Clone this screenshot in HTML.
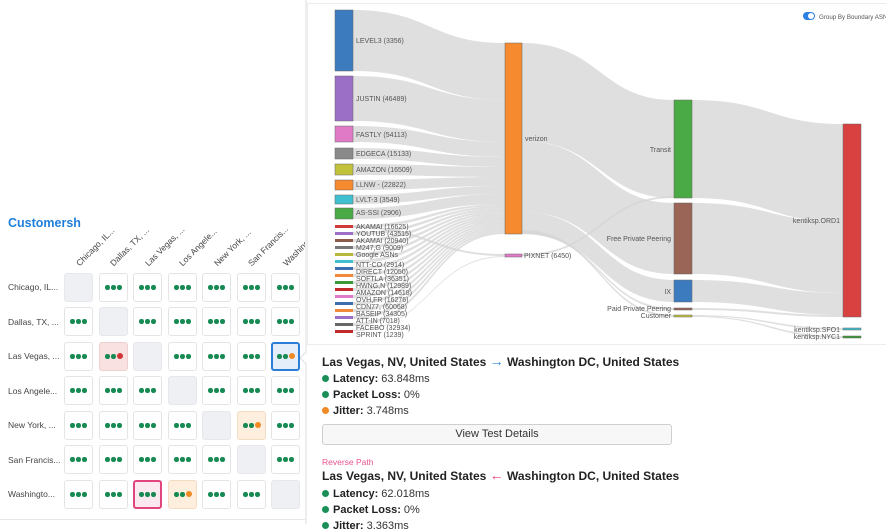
<!DOCTYPE html>
<html><head><meta charset="utf-8">
<style>
*{margin:0;padding:0;box-sizing:border-box}
body{width:886px;height:524px;overflow:hidden;background:#fff;font-family:"Liberation Sans",sans-serif;position:relative}
.t{position:absolute;white-space:nowrap}
.rl{position:absolute;left:8px;font-size:8.5px;color:#444}
.cl{position:absolute;font-size:8.5px;color:#444;transform:rotate(-45deg);transform-origin:left bottom;white-space:nowrap}
.c{position:absolute;width:29px;height:29px;border:1px solid #e4e4e4;border-radius:3px;background:#fff}
.c.d{background:#eef0f3;border-color:#e6e8eb}
.dots{position:absolute;left:5px;top:11px;height:5px;width:17px}
.dots i{position:absolute;top:0;width:4.5px;height:4.5px;border-radius:50%;background:#168a52}
.it{position:absolute;left:322px;font-size:11px;color:#333}
.it b{font-weight:bold;color:#222}
.it s{display:inline-block;width:7px;height:7px;border-radius:50%;background:#1a8f55;margin-right:4px;vertical-align:0px;text-decoration:none}
.h{position:absolute;left:322px;font-size:12px;font-weight:bold;color:#222;white-space:nowrap}
.h span{font-size:14px}
</style></head><body>

<div class="t" style="left:8px;top:216px;font-size:12.5px;font-weight:bold;color:#1f7fdc">Customersh</div>

<div class="cl" style="left:81px;top:258px">Chicago, IL...</div>
<div class="cl" style="left:115px;top:258px">Dallas, TX, ...</div>
<div class="cl" style="left:150px;top:258px">Las Vegas, ...</div>
<div class="cl" style="left:184px;top:258px">Los Angele...</div>
<div class="cl" style="left:219px;top:258px">New York, ...</div>
<div class="cl" style="left:253px;top:258px">San Francis...</div>
<div class="cl" style="left:288px;top:258px">Washingto...</div>

<div class="rl" style="top:282px">Chicago, IL...</div>
<div class="rl" style="top:317px">Dallas, TX, ...</div>
<div class="rl" style="top:351px">Las Vegas, ...</div>
<div class="rl" style="top:386px">Los Angele...</div>
<div class="rl" style="top:420px">New York, ...</div>
<div class="rl" style="top:455px">San Francis...</div>
<div class="rl" style="top:489px">Washingto...</div>

<div style="position:absolute;left:0;top:519px;width:305px;height:1px;background:#e6e6e6"></div>

<div style="position:absolute;left:305px;top:0;width:2px;height:524px;background:#eee"></div>
<div style="position:absolute;left:307px;top:3px;width:579px;height:342px;border:1px solid #ececec;border-right:none;background:#fff"></div>

<svg style="position:absolute;left:0;top:0" width="886" height="524">
<g fill="#d4d4d4" fill-opacity="0.75">
<path d="M353 10 C430 10,430 43,505 43 L505 100 C430 100,430 71,353 71Z"/>
<path d="M353 76 C430 76,430 100,505 100 L505 142 C430 142,430 121,353 121Z"/>
<path d="M353 126 C430 126,430 142,505 142 L505 157 C430 157,430 142,353 142Z"/>
<path d="M353 148 C430 148,430 157,505 157 L505 167 C430 167,430 159,353 159Z"/>
<path d="M353 164 C430 164,430 167,505 167 L505 177 C430 177,430 175,353 175Z"/>
<path d="M353 180 C430 180,430 177,505 177 L505 186 C430 186,430 190,353 190Z"/>
<path d="M353 195 C430 195,430 186,505 186 L505 194 C430 194,430 204,353 204Z"/>
<path d="M353 208 C430 208,430 194,505 194 L505 204 C430 204,430 219,353 219Z"/>
<path d="M353 225 C430 225,430 204,505 204 L505 206 C430 206,430 228,353 228Z"/>
<path d="M353 232 C430 232,430 206,505 206 L505 208 C430 208,430 235,353 235Z"/>
<path d="M353 239 C430 239,430 208,505 208 L505 210 C430 210,430 242,353 242Z"/>
<path d="M353 246 C430 246,430 210,505 210 L505 212 C430 212,430 249,353 249Z"/>
<path d="M353 253 C430 253,430 212,505 212 L505 214 C430 214,430 256,353 256Z"/>
<path d="M353 260 C430 260,430 214,505 214 L505 216 C430 216,430 263,353 263Z"/>
<path d="M353 267 C430 267,430 216,505 216 L505 218 C430 218,430 270,353 270Z"/>
<path d="M353 274 C430 274,430 218,505 218 L505 220 C430 220,430 277,353 277Z"/>
<path d="M353 281 C430 281,430 220,505 220 L505 222 C430 222,430 284,353 284Z"/>
<path d="M353 288 C430 288,430 222,505 222 L505 224 C430 224,430 291,353 291Z"/>
<path d="M353 295 C430 295,430 224,505 224 L505 226 C430 226,430 298,353 298Z"/>
<path d="M353 302 C430 302,430 226,505 226 L505 228 C430 228,430 305,353 305Z"/>
<path d="M353 309 C430 309,430 228,505 228 L505 230 C430 230,430 312,353 312Z"/>
<path d="M353 316 C430 316,430 230,505 230 L505 232 C430 232,430 319,353 319Z"/>
<path d="M353 323 C430 323,430 232,505 232 L505 234 C430 234,430 326,353 326Z"/>
<path d="M353 226 C430 226,430 254,505 254 L505 256 C430 256,430 228,353 228Z"/>
<path d="M353 330 C430 330,430 256,505 256 L505 257 C430 257,430 331,353 331Z"/>
<path d="M522 43 C600 43,600 100,674 100 L674 198 C600 198,600 141,522 141Z"/>
<path d="M522 141 C600 141,600 203,674 203 L674 274 C600 274,600 212,522 212Z"/>
<path d="M522 212 C600 212,600 280,674 280 L674 302 C600 302,600 234,522 234Z"/>
<path d="M522 254 C600 254,600 196,674 196 L674 198 C600 198,600 256,522 256Z"/>
<path d="M522 232 C600 232,600 308,674 308 L674 310 C600 310,600 234,522 234Z"/>
<path d="M522 230 C600 230,600 315,674 315 L674 317 C600 317,600 232,522 232Z"/>
<path d="M692 100 C770 100,770 124,843 124 L843 222 C770 222,770 198,692 198Z"/>
<path d="M692 203 C770 203,770 222,843 222 L843 293 C770 293,770 274,692 274Z"/>
<path d="M692 280 C770 280,770 293,843 293 L843 315 C770 315,770 302,692 302Z"/>
<path d="M692 308 C770 308,770 315,843 315 L843 317 C770 317,770 310,692 310Z"/>
<path d="M692 315 C770 315,770 328,843 328 L843 330 C770 330,770 316,692 316Z"/>
<path d="M692 316 C770 316,770 336,843 336 L843 338 C770 338,770 317,692 317Z"/>
</g>
<g stroke="#666" stroke-width="0.5">
<rect x="335" y="10" width="18" height="61" fill="#3d7bbf"/>
<rect x="335" y="76" width="18" height="45" fill="#9b6fc6"/>
<rect x="335" y="126" width="18" height="16" fill="#e07ac7"/>
<rect x="335" y="148" width="18" height="11" fill="#8a8a8a"/>
<rect x="335" y="164" width="18" height="11" fill="#c1c23a"/>
<rect x="335" y="180" width="18" height="10" fill="#f68a2f"/>
<rect x="335" y="195" width="18" height="9" fill="#3fbfd0"/>
<rect x="335" y="208" width="18" height="11" fill="#4aaa45"/>
<rect x="505" y="43" width="17" height="191" fill="#f68a2f"/>
<rect x="505" y="254" width="17" height="3" fill="#e07ac7"/>
<rect x="674" y="100" width="18" height="98" fill="#4aaa45"/>
<rect x="674" y="203" width="18" height="71" fill="#9a6456"/>
<rect x="674" y="280" width="18" height="22" fill="#3d7bbf"/>
<rect x="674" y="308" width="18" height="2" fill="#9a6456"/>
<rect x="674" y="315" width="18" height="2" fill="#c1c23a"/>
<rect x="843" y="124" width="18" height="193" fill="#d94040"/>
<rect x="843" y="328" width="18" height="2" fill="#3fbfd0"/>
<rect x="843" y="336" width="18" height="2" fill="#3a9a3a"/>
</g>
<g stroke="none">
<rect x="335" y="225" width="18" height="3" fill="#d03a3a"/>
<rect x="335" y="232" width="18" height="3" fill="#9b6fc6"/>
<rect x="335" y="239" width="18" height="3" fill="#8a5a4a"/>
<rect x="335" y="246" width="18" height="3" fill="#777"/>
<rect x="335" y="253" width="18" height="3" fill="#b8b83a"/>
<rect x="335" y="260" width="18" height="3" fill="#3fbfd0"/>
<rect x="335" y="267" width="18" height="3" fill="#3d6fb0"/>
<rect x="335" y="274" width="18" height="3" fill="#f08a3a"/>
<rect x="335" y="281" width="18" height="3" fill="#3a9a3a"/>
<rect x="335" y="288" width="18" height="3" fill="#c02a2a"/>
<rect x="335" y="295" width="18" height="3" fill="#e07ac7"/>
<rect x="335" y="302" width="18" height="3" fill="#3d6fb0"/>
<rect x="335" y="309" width="18" height="3" fill="#f08a3a"/>
<rect x="335" y="316" width="18" height="3" fill="#9b6fc6"/>
<rect x="335" y="323" width="18" height="3" fill="#666"/>
<rect x="335" y="330" width="18" height="3" fill="#c02a2a"/>
</g>
<g font-family="Liberation Sans,sans-serif" font-size="7" fill="#555">
<text x="356" y="43">LEVEL3 (3356)</text>
<text x="356" y="101">JUSTIN (46489)</text>
<text x="356" y="137">FASTLY (54113)</text>
<text x="356" y="156">EDGECA (15133)</text>
<text x="356" y="172">AMAZON (16509)</text>
<text x="356" y="187">LLNW - (22822)</text>
<text x="356" y="202">LVLT-3 (3549)</text>
<text x="356" y="215">AS-SSI (2906)</text>
<text x="356" y="229">AKAMAI (16625)</text>
<text x="356" y="236">YOUTUB (43515)</text>
<text x="356" y="243">AKAMAI (20940)</text>
<text x="356" y="250">M247,G (9009)</text>
<text x="356" y="257">Google ASNs</text>
<text x="356" y="267">NTT-CO (2914)</text>
<text x="356" y="274">DIRECT (12050)</text>
<text x="356" y="281">SOFTLA (36351)</text>
<text x="356" y="288">HWNG,N (12989)</text>
<text x="356" y="295">AMAZON (14618)</text>
<text x="356" y="302">OVH,FR (16276)</text>
<text x="356" y="309">CDN77, (60068)</text>
<text x="356" y="316">BASEIP (34305)</text>
<text x="356" y="323">ATT-IN (7018)</text>
<text x="356" y="330">FACEBO (32934)</text>
<text x="356" y="337">SPRINT (1239)</text>
<text x="525" y="141">verizon</text>
<text x="524" y="258">PIXNET (6450)</text>
<text x="671" y="152" text-anchor="end">Transit</text>
<text x="671" y="241" text-anchor="end">Free Private Peering</text>
<text x="671" y="294" text-anchor="end">IX</text>
<text x="671" y="311" text-anchor="end">Paid Private Peering</text>
<text x="671" y="318" text-anchor="end">Customer</text>
<text x="840" y="223" text-anchor="end">kentiksp.ORD1</text>
<text x="840" y="332" text-anchor="end">kentiksp.SFO1</text>
<text x="840" y="339" text-anchor="end">kentiksp.NYC1</text>
<text x="819" y="19" font-size="6.2">Group By Boundary ASN</text>
</g>
<rect x="803" y="12" width="12" height="8" rx="4" fill="#2d7fe0"/>
<circle cx="811" cy="16" r="3" fill="#fff"/>
</svg>

<!-- popup -->
<div style="position:absolute;left:307px;top:346px;width:579px;height:178px;background:#fff"></div>
<div style="position:absolute;left:301px;top:354px;width:8px;height:8px;background:#fff;border-left:1px solid #ddd;border-top:1px solid #ddd;transform:rotate(-45deg)"></div>
<div class="h" style="top:353px">Las Vegas, NV, United States <span style="color:#2d86e0;font-weight:normal">→</span> Washington DC, United States</div>
<div class="it" style="top:373px"><s></s><b>Latency:</b> 63.848ms</div>
<div class="it" style="top:389px"><s></s><b>Packet Loss:</b> 0%</div>
<div class="it" style="top:405px"><s style="background:#f08a24"></s><b>Jitter:</b> 3.748ms</div>
<div style="position:absolute;left:322px;top:424px;width:350px;height:21px;border:1px solid #cfcfcf;border-radius:3px;background:#f7f7f7;font-size:11px;color:#333;text-align:center;line-height:19px">View Test Details</div>
<div class="t" style="left:322px;top:457px;font-size:8.5px;color:#e8528f">Reverse Path</div>
<div class="h" style="top:467px">Las Vegas, NV, United States <span style="color:#e8407a;font-weight:normal">←</span> Washington DC, United States</div>
<div class="it" style="top:488px"><s></s><b>Latency:</b> 62.018ms</div>
<div class="it" style="top:504px"><s></s><b>Packet Loss:</b> 0%</div>
<div class="it" style="top:520px"><s></s><b>Jitter:</b> 3.363ms</div>

<!-- cells -->
<div class="c d" style="left:64px;top:273px"></div>
<div class="c" style="left:99px;top:273px"><div class="dots"><i style="left:0"></i><i style="left:6px"></i><i style="left:12px"></i></div></div>
<div class="c" style="left:133px;top:273px"><div class="dots"><i style="left:0"></i><i style="left:6px"></i><i style="left:12px"></i></div></div>
<div class="c" style="left:168px;top:273px"><div class="dots"><i style="left:0"></i><i style="left:6px"></i><i style="left:12px"></i></div></div>
<div class="c" style="left:202px;top:273px"><div class="dots"><i style="left:0"></i><i style="left:6px"></i><i style="left:12px"></i></div></div>
<div class="c" style="left:237px;top:273px"><div class="dots"><i style="left:0"></i><i style="left:6px"></i><i style="left:12px"></i></div></div>
<div class="c" style="left:271px;top:273px"><div class="dots"><i style="left:0"></i><i style="left:6px"></i><i style="left:12px"></i></div></div>

<div class="c" style="left:64px;top:307px"><div class="dots"><i style="left:0"></i><i style="left:6px"></i><i style="left:12px"></i></div></div>
<div class="c d" style="left:99px;top:307px"></div>
<div class="c" style="left:133px;top:307px"><div class="dots"><i style="left:0"></i><i style="left:6px"></i><i style="left:12px"></i></div></div>
<div class="c" style="left:168px;top:307px"><div class="dots"><i style="left:0"></i><i style="left:6px"></i><i style="left:12px"></i></div></div>
<div class="c" style="left:202px;top:307px"><div class="dots"><i style="left:0"></i><i style="left:6px"></i><i style="left:12px"></i></div></div>
<div class="c" style="left:237px;top:307px"><div class="dots"><i style="left:0"></i><i style="left:6px"></i><i style="left:12px"></i></div></div>
<div class="c" style="left:271px;top:307px"><div class="dots"><i style="left:0"></i><i style="left:6px"></i><i style="left:12px"></i></div></div>

<div class="c" style="left:64px;top:342px"><div class="dots"><i style="left:0"></i><i style="left:6px"></i><i style="left:12px"></i></div></div>
<div class="c" style="left:99px;top:342px;background:#f9e1e1;border-color:#eed0d0"><div class="dots"><i style="left:0"></i><i style="left:6px"></i><i style="left:12px;width:6px;height:6px;top:-1px;background:#d03434"></i></div></div>
<div class="c d" style="left:133px;top:342px"></div>
<div class="c" style="left:168px;top:342px"><div class="dots"><i style="left:0"></i><i style="left:6px"></i><i style="left:12px"></i></div></div>
<div class="c" style="left:202px;top:342px"><div class="dots"><i style="left:0"></i><i style="left:6px"></i><i style="left:12px"></i></div></div>
<div class="c" style="left:237px;top:342px"><div class="dots"><i style="left:0"></i><i style="left:6px"></i><i style="left:12px"></i></div></div>
<div class="c" style="left:271px;top:342px;background:#e4eefb;border:2px solid #2b7dd6"><div class="dots" style="left:4px;top:10px"><i style="left:0"></i><i style="left:6px"></i><i style="left:12px;width:6px;height:6px;top:-1px;background:#f08a24"></i></div></div>

<div class="c" style="left:64px;top:376px"><div class="dots"><i style="left:0"></i><i style="left:6px"></i><i style="left:12px"></i></div></div>
<div class="c" style="left:99px;top:376px"><div class="dots"><i style="left:0"></i><i style="left:6px"></i><i style="left:12px"></i></div></div>
<div class="c" style="left:133px;top:376px"><div class="dots"><i style="left:0"></i><i style="left:6px"></i><i style="left:12px"></i></div></div>
<div class="c d" style="left:168px;top:376px"></div>
<div class="c" style="left:202px;top:376px"><div class="dots"><i style="left:0"></i><i style="left:6px"></i><i style="left:12px"></i></div></div>
<div class="c" style="left:237px;top:376px"><div class="dots"><i style="left:0"></i><i style="left:6px"></i><i style="left:12px"></i></div></div>
<div class="c" style="left:271px;top:376px"><div class="dots"><i style="left:0"></i><i style="left:6px"></i><i style="left:12px"></i></div></div>

<div class="c" style="left:64px;top:411px"><div class="dots"><i style="left:0"></i><i style="left:6px"></i><i style="left:12px"></i></div></div>
<div class="c" style="left:99px;top:411px"><div class="dots"><i style="left:0"></i><i style="left:6px"></i><i style="left:12px"></i></div></div>
<div class="c" style="left:133px;top:411px"><div class="dots"><i style="left:0"></i><i style="left:6px"></i><i style="left:12px"></i></div></div>
<div class="c" style="left:168px;top:411px"><div class="dots"><i style="left:0"></i><i style="left:6px"></i><i style="left:12px"></i></div></div>
<div class="c d" style="left:202px;top:411px"></div>
<div class="c" style="left:237px;top:411px;background:#fdeedd;border-color:#f2dcc4"><div class="dots"><i style="left:0"></i><i style="left:6px"></i><i style="left:12px;width:6px;height:6px;top:-1px;background:#f08a24"></i></div></div>
<div class="c" style="left:271px;top:411px"><div class="dots"><i style="left:0"></i><i style="left:6px"></i><i style="left:12px"></i></div></div>

<div class="c" style="left:64px;top:445px"><div class="dots"><i style="left:0"></i><i style="left:6px"></i><i style="left:12px"></i></div></div>
<div class="c" style="left:99px;top:445px"><div class="dots"><i style="left:0"></i><i style="left:6px"></i><i style="left:12px"></i></div></div>
<div class="c" style="left:133px;top:445px"><div class="dots"><i style="left:0"></i><i style="left:6px"></i><i style="left:12px"></i></div></div>
<div class="c" style="left:168px;top:445px"><div class="dots"><i style="left:0"></i><i style="left:6px"></i><i style="left:12px"></i></div></div>
<div class="c" style="left:202px;top:445px"><div class="dots"><i style="left:0"></i><i style="left:6px"></i><i style="left:12px"></i></div></div>
<div class="c d" style="left:237px;top:445px"></div>
<div class="c" style="left:271px;top:445px"><div class="dots"><i style="left:0"></i><i style="left:6px"></i><i style="left:12px"></i></div></div>

<div class="c" style="left:64px;top:480px"><div class="dots"><i style="left:0"></i><i style="left:6px"></i><i style="left:12px"></i></div></div>
<div class="c" style="left:99px;top:480px"><div class="dots"><i style="left:0"></i><i style="left:6px"></i><i style="left:12px"></i></div></div>
<div class="c" style="left:133px;top:480px;background:#fce8ef;border:2px solid #e0457d"><div class="dots" style="left:4px;top:10px"><i style="left:0"></i><i style="left:6px"></i><i style="left:12px"></i></div></div>
<div class="c" style="left:168px;top:480px;background:#fdeedd;border-color:#f2dcc4"><div class="dots"><i style="left:0"></i><i style="left:6px"></i><i style="left:12px;width:6px;height:6px;top:-1px;background:#f08a24"></i></div></div>
<div class="c" style="left:202px;top:480px"><div class="dots"><i style="left:0"></i><i style="left:6px"></i><i style="left:12px"></i></div></div>
<div class="c" style="left:237px;top:480px"><div class="dots"><i style="left:0"></i><i style="left:6px"></i><i style="left:12px"></i></div></div>
<div class="c d" style="left:271px;top:480px"></div>

</body></html>
